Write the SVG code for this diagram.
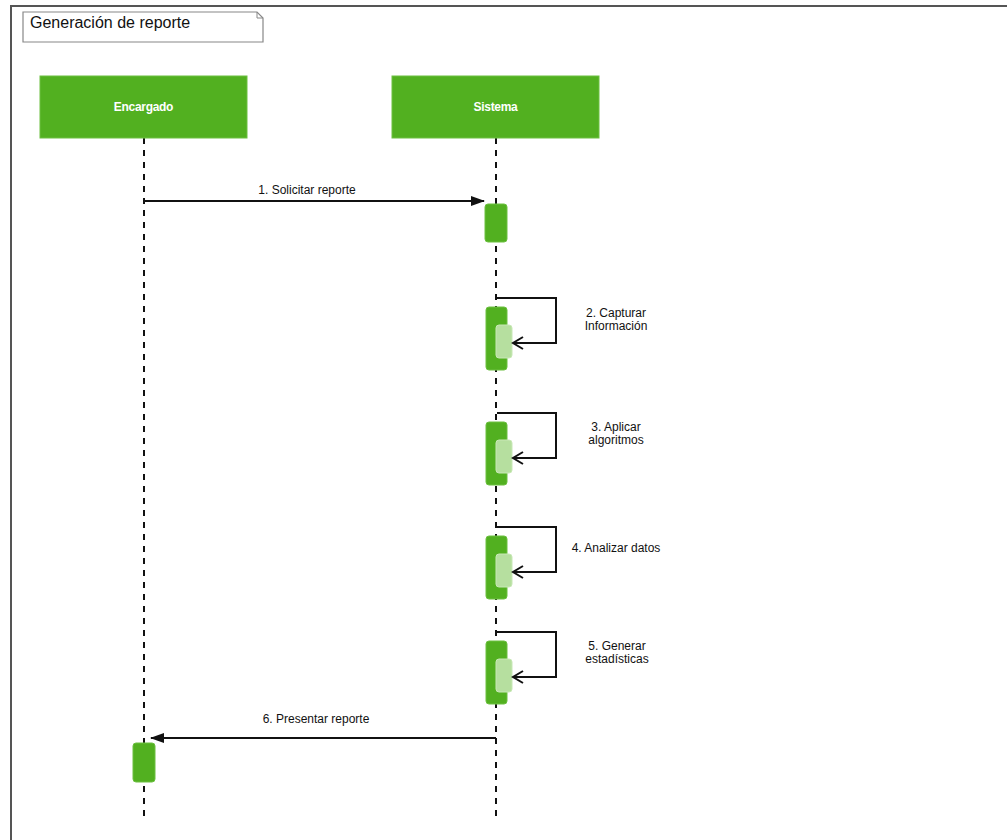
<svg xmlns="http://www.w3.org/2000/svg" width="1007" height="840" viewBox="0 0 1007 840">
  <style>
    .frame { fill: none; stroke: #555; stroke-width: 2; }
    .note { fill: #fff; stroke: #888; stroke-width: 1.2; }
    .title { font-family: "Liberation Sans", Arial, sans-serif; font-size: 16px; fill: #111; }
    .actor { fill: #52B020; stroke: #6cc040; stroke-width: 1; }
    .actor-label { font-family: "Liberation Sans", Arial, sans-serif; font-size: 12px; font-weight: bold; fill: #fff; text-anchor: middle; letter-spacing: -0.3px; }
    .lifeline { stroke: #111; stroke-width: 2; stroke-dasharray: 6 6; fill: none; }
    .act { fill: #52B020; stroke: #6cc040; stroke-width: 1; }
    .act-inner { fill: #B6DF9F; stroke: #c8e8b6; stroke-width: 1; }
    .msg { stroke: #111; stroke-width: 2; fill: none; }
    .label { font-family: "Liberation Sans", Arial, sans-serif; font-size: 12px; fill: #111; text-anchor: middle; }
  </style>
  <defs>
    <marker id="solid" markerWidth="14" markerHeight="10" refX="13" refY="5" orient="auto" markerUnits="userSpaceOnUse">
      <path d="M0,0 L14,5 L0,10 Z" fill="#111"/>
    </marker>
    <marker id="open" markerWidth="14" markerHeight="14" refX="12" refY="7" orient="auto" markerUnits="userSpaceOnUse">
      <path d="M2,1 L12,7 L2,13" fill="none" stroke="#111" stroke-width="2"/>
    </marker>
  </defs>

  <rect width="1007" height="840" fill="#fff"/>
  <!-- outer frame -->
  <path class="frame" d="M11,850 L11,6 L1020,6"/>

  <!-- diagram title -->
  <g id="title">
    <path class="note" d="M23,12 L257,12 L263,18 L263,42 L23,42 Z"/>
    <path d="M257,12 L257,18 L263,18" fill="none" stroke="#888" stroke-width="1"/>
    <text class="title" x="30" y="28">Generación de reporte</text>
  </g>

  <!-- lifelines -->
  <g id="lifelines">
    <line class="lifeline" x1="144" y1="138" x2="144" y2="818"/>
    <line class="lifeline" x1="496" y1="138" x2="496" y2="818"/>
  </g>

  <g id="encargado">
    <rect class="actor" x="40" y="76" width="207" height="62"/>
    <text class="actor-label" x="143.5" y="111">Encargado</text>
  </g>
  <g id="sistema">
    <rect class="actor" x="392" y="76" width="207" height="62"/>
    <text class="actor-label" x="495.5" y="111">Sistema</text>
  </g>

  <!-- activation bars -->
  <g id="activation-sistema-1"><rect class="act" x="485" y="204" width="22" height="38" rx="3"/></g>
  <g id="activation-sistema-2">
    <rect class="act" x="486" y="307" width="21" height="63" rx="3"/>
    <rect class="act-inner" x="496" y="325" width="16" height="33" rx="3"/>
  </g>
  <g id="activation-sistema-3">
    <rect class="act" x="486" y="422" width="21" height="63" rx="3"/>
    <rect class="act-inner" x="496" y="440" width="16" height="33" rx="3"/>
  </g>
  <g id="activation-sistema-4">
    <rect class="act" x="486" y="536" width="21" height="63" rx="3"/>
    <rect class="act-inner" x="496" y="554" width="16" height="33" rx="3"/>
  </g>
  <g id="activation-sistema-5">
    <rect class="act" x="486" y="641" width="21" height="63" rx="3"/>
    <rect class="act-inner" x="496" y="659" width="16" height="33" rx="3"/>
  </g>
  <g id="activation-encargado"><rect class="act" x="133" y="743" width="22" height="39" rx="3"/></g>

  <!-- messages -->
  <g id="connectors">
    <line class="msg" x1="144" y1="201" x2="484" y2="201" marker-end="url(#solid)"/>
    <path class="msg" d="M497,298 L556,298 L556,343 L513,343" marker-end="url(#open)"/>
    <path class="msg" d="M497,413 L556,413 L556,458 L513,458" marker-end="url(#open)"/>
    <path class="msg" d="M497,527 L556,527 L556,572 L513,572" marker-end="url(#open)"/>
    <path class="msg" d="M497,632 L556,632 L556,677 L513,677" marker-end="url(#open)"/>
    <line class="msg" x1="496" y1="738" x2="151" y2="738" marker-end="url(#solid)"/>
  </g>

  <g id="labels">
    <text class="label" x="307" y="194">1. Solicitar reporte</text>
    <text class="label" x="616" y="317">2. Capturar</text>
    <text class="label" x="616" y="330">Información</text>
    <text class="label" x="616" y="431">3. Aplicar</text>
    <text class="label" x="616" y="444">algoritmos</text>
    <text class="label" x="616" y="552">4. Analizar datos</text>
    <text class="label" x="617" y="650">5. Generar</text>
    <text class="label" x="617" y="663">estadísticas</text>
    <text class="label" x="316" y="723">6. Presentar reporte</text>
  </g>
</svg>
